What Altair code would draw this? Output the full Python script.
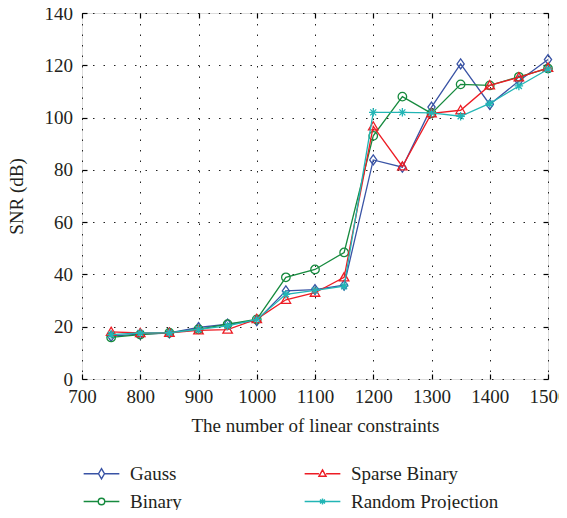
import altair as alt
import pandas as pd

# ---------------- data ----------------
constraints = [750, 800, 850, 900, 950, 1000, 1050, 1100, 1150,
               1200, 1250, 1300, 1350, 1400, 1450, 1500]
gauss = [16.4, 17.2, 17.6, 19.7, 21.0, 22.3, 33.7, 34.2, 35.9,
         83.8, 81.0, 104.0, 120.5, 105.0, 114.0, 122.2]
binary = [15.9, 17.0, 17.7, 19.0, 21.0, 22.8, 38.9, 41.9, 48.4,
          93.0, 108.0, 101.6, 112.7, 112.3, 115.6, 118.8]
sparse_binary = [18.0, 17.6, 17.7, 18.6, 18.9, 22.9, 30.3, 33.0, 38.9,
                 96.6, 81.3, 101.6, 102.8, 112.3, 115.4, 119.0]
random_projection = [17.0, 17.6, 17.7, 19.0, 20.3, 22.8, 32.4, 33.9, 35.5,
                     102.0, 102.0, 101.8, 100.5, 105.4, 112.1, 118.5]

methods = ["Gauss", "Binary", "Sparse Binary", "Random Projection"]
series_values = [gauss, binary, sparse_binary, random_projection]
colors = ["#3953a5", "#168a3e", "#ed1c24", "#22b5b5"]

x_ticks = [700, 800, 900, 1000, 1100, 1200, 1300, 1400, 1500]
y_ticks = [0, 20, 40, 60, 80, 100, 120, 140]

# ---------------- styles ----------------
FONT = "Liberation Serif"
TXT = "#231f20"
marker_paths = {
    "Gauss": "M0,-1L0.72,0L0,1L-0.72,0Z",
    "Binary": "M0.85,0A0.85,0.85 0 1,1 -0.85,0A0.85,0.85 0 1,1 0.85,0Z",
    "Sparse Binary": "M0,-0.95L0.95,0.7L-0.95,0.7Z",
    "Random Projection": "M0,-0.85L0,0.85M-0.85,0L0.85,0M-0.6,-0.6L0.6,0.6M-0.6,0.6L0.6,-0.6",
}
# legend symbols: line + marker, unit = 8.5 px
legend_paths = {
    "Gauss": "M-2.1,0L-0.35,0M0.35,0L2.1,0M0,-0.6L0.35,0L0,0.6L-0.35,0Z",
    "Binary": "M-2.1,0L-0.38,0M0.38,0L2.1,0M0.38,0A0.38,0.38 0 1,1 -0.38,0A0.38,0.38 0 1,1 0.38,0Z",
    "Sparse Binary": "M-2.1,0L-0.42,0M0.42,0L2.1,0M0,-0.45L0.42,0.3L-0.42,0.3Z",
    "Random Projection": "M-2.1,0L2.1,0M0,-0.35L0,0.35M-0.3,-0.22L0.3,0.22M-0.3,0.22L0.3,-0.22",
}
legend_order = methods
legend_colors = [colors[methods.index(m)] for m in legend_order]
legend_shapes = [legend_paths[m] for m in legend_order]

rows = []
for m, vals in zip(methods, series_values):
    for c, v in zip(constraints, vals):
        rows.append({"constraints": c, "snr": v, "method": m})
df = pd.DataFrame(rows)

xscale = alt.Scale(domain=[700, 1500], nice=False, zero=False)
yscale = alt.Scale(domain=[0, 140], nice=False, zero=True)

main_x_axis = alt.Axis(
    values=x_ticks, format="d", grid=True, gridDash=[1.5, 9], gridColor="#222", gridWidth=1,
    domain=False, ticks=True, tickSize=5, tickWidth=1.2, tickColor="black", offset=-5,
    labelPadding=8, labelFont=FONT, labelFontSize=19, labelColor=TXT, labelFlush=False,
    title="The number of linear constraints", titleFont=FONT, titleFontSize=19,
    titleFontWeight="normal", titleColor=TXT, titlePadding=10,
)
main_y_axis = alt.Axis(
    values=y_ticks, format="d", grid=True, gridDash=[1.5, 9], gridColor="#222", gridWidth=1,
    domain=False, ticks=True, tickSize=5, tickWidth=1.2, tickColor="black", offset=-5,
    labelPadding=9.5, labelFont=FONT, labelFontSize=19, labelColor=TXT, labelFlush=False,
    title="SNR (dB)", titleFont=FONT, titleFontSize=19,
    titleFontWeight="normal", titleColor=TXT, titlePadding=18,
)
top_axis = alt.Axis(orient="top", values=x_ticks, labels=False, grid=False, domain=False,
                    ticks=True, tickSize=5, tickWidth=1.2, tickColor="black", offset=-5, title=None)
right_axis = alt.Axis(orient="right", values=y_ticks, labels=False, grid=False, domain=False,
                      ticks=True, tickSize=5, tickWidth=1.2, tickColor="black", offset=-5, title=None)

layers = []
for i, (m, c) in enumerate(zip(methods, colors)):
    sub = alt.Chart(df).transform_filter(alt.datum.method == m)
    xa = main_x_axis if i == 0 else None
    ya = main_y_axis if i == 0 else None
    line = sub.mark_line(color=c, strokeWidth=1.3, opacity=1).encode(
        x=alt.X("constraints:Q", scale=xscale, axis=xa),
        y=alt.Y("snr:Q", scale=yscale, axis=ya),
    )
    pts = sub.mark_point(shape=marker_paths[m], size=100, filled=False, color=c,
                         strokeWidth=1.3, opacity=1).encode(
        x=alt.X("constraints:Q", scale=xscale, axis=None),
        y=alt.Y("snr:Q", scale=yscale, axis=None),
    )
    layers += [line, pts]

legend_def = alt.Legend(
    orient="none", legendX=10, legendY=451, columns=2, title=None,
    symbolSize=289, symbolStrokeWidth=1.4, labelFont=FONT, labelFontSize=19,
    labelColor=TXT, labelOffset=19, columnPadding=119, rowPadding=8, padding=0,
)
legend_layer = alt.Chart(df).transform_filter("false").mark_point(
    filled=False, opacity=1, strokeWidth=1.4
).encode(
    x=alt.X("constraints:Q", scale=xscale, axis=top_axis),
    y=alt.Y("snr:Q", scale=yscale, axis=right_axis),
    color=alt.Color("method:N", scale=alt.Scale(domain=legend_order, range=legend_colors),
                    legend=legend_def),
    shape=alt.Shape("method:N", scale=alt.Scale(domain=legend_order, range=legend_shapes),
                    legend=legend_def),
)
layers.append(legend_layer)

chart = alt.layer(*layers).resolve_axis(x="independent", y="independent").properties(
    width=466, height=366,
    autosize=alt.AutoSizeParams(type="none"),
    padding={"left": 74, "top": 5, "right": 11, "bottom": 131},
).configure_view(stroke="black", strokeWidth=1.2).configure_axis(
    labelFont=FONT, titleFont=FONT
).configure_legend(labelFont=FONT).configure(background="white")

chart.save("out.html", embed_options={"renderer": "svg", "actions": False})
